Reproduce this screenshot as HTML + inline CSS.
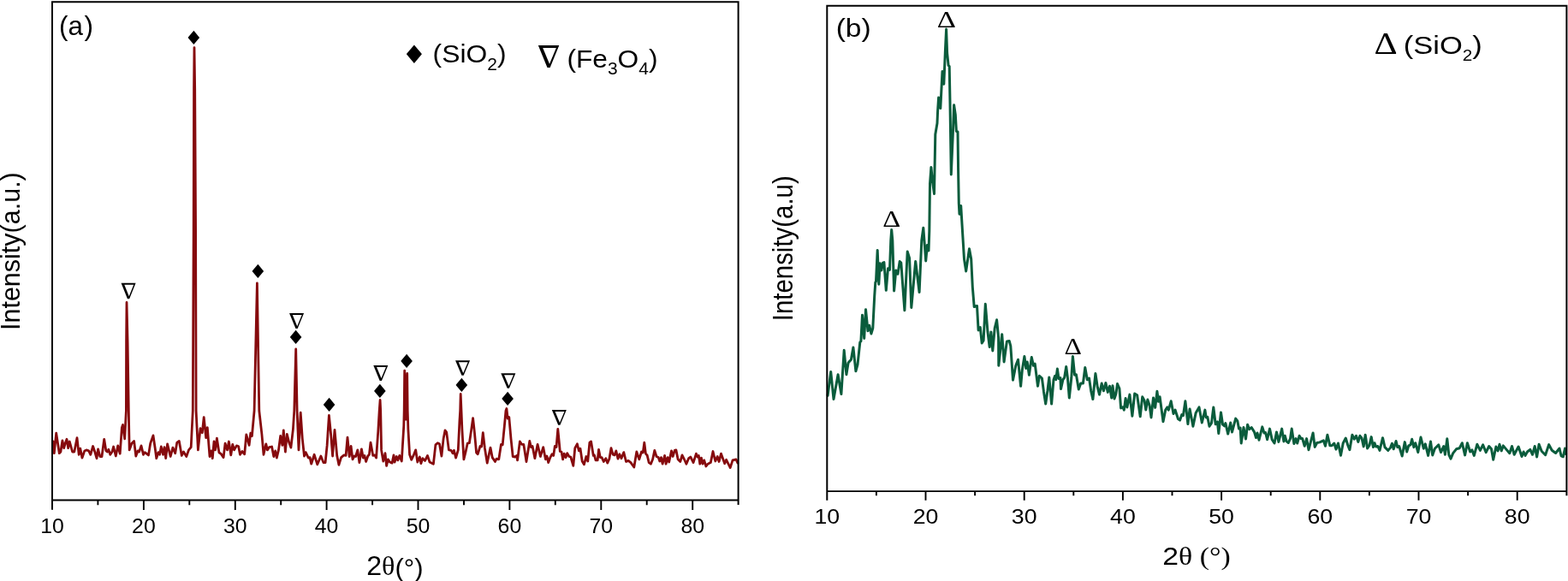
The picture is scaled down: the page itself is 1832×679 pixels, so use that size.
<!DOCTYPE html>
<html lang="en"><head><meta charset="utf-8"><title>XRD patterns</title>
<style>html,body{margin:0;padding:0;background:#fff}body{width:1832px;height:679px;overflow:hidden}svg{display:block}text{fill:#000}.ax{fill:none;stroke:#000;stroke-width:2;stroke-linecap:butt;stroke-linejoin:miter}.tk{stroke:#000;stroke-width:1.9;fill:none}.c1{fill:none;stroke:#860a0d;stroke-width:2.8;stroke-linejoin:round;stroke-linecap:round}.c2{fill:none;stroke:#0a5c3c;stroke-width:3;stroke-linejoin:round;stroke-linecap:round}</style></head><body>
<svg width="1832" height="679" viewBox="0 0 1832 679">
<rect x="0" y="0" width="1832" height="679" fill="#fff"/>
<g id="plot-a">
<polyline class="c1" points="62.0,516.0 63.3,529.7 65.7,506.2 69.3,529.7 70.9,528.0 72.9,514.9 74.7,523.7 76.4,517.7 78.0,513.3 79.7,523.7 81.3,516.0 84.6,528.0 86.8,528.0 90.0,511.7 92.2,531.3 93.8,524.2 96.0,535.1 98.8,526.9 100.9,525.9 103.7,526.9 105.8,531.3 108.6,521.5 110.8,528.0 113.0,535.7 114.6,524.8 116.8,533.5 119.0,533.5 121.7,513.3 123.9,526.9 125.5,528.0 126.8,525.3 128.8,531.3 131.0,528.0 132.6,522.0 135.3,533.0 137.7,520.9 140.2,530.2 142.4,499.6 143.5,496.4 145.7,512.8 147.4,480.0 147.6,400.0 148.0,353.5 149.1,400.0 150.3,480.0 151.2,525.9 153.9,518.2 156.6,515.5 158.8,533.0 161.0,526.9 162.6,528.0 165.0,520.9 167.5,531.3 169.2,528.6 173.5,531.9 175.7,518.2 179.0,508.9 181.2,523.7 182.8,535.7 185.0,528.6 186.6,531.3 188.3,522.0 190.5,531.3 192.1,522.6 193.7,535.7 195.6,518.8 199.2,533.5 201.9,523.1 204.7,529.7 206.8,517.1 209.3,515.5 212.3,532.4 214.5,528.0 217.8,533.5 220.5,525.9 223.2,522.6 225.3,480.0 226.2,270.0 226.6,104.0 227.0,55.6 227.7,104.0 228.6,270.0 229.1,480.0 231.4,525.9 234.1,500.7 236.3,505.7 238.2,487.6 240.7,511.7 242.3,499.6 245.0,533.5 246.9,526.9 248.3,535.7 250.0,516.0 251.6,525.9 253.4,512.2 256.0,529.1 258.1,530.2 261.1,534.6 263.1,518.2 265.5,525.9 267.4,516.0 269.8,531.9 271.8,519.3 273.6,525.9 276.4,520.9 278.6,521.5 280.5,531.3 282.9,527.5 285.7,530.8 287.8,507.8 291.1,520.4 292.8,506.2 294.4,509.5 297.1,480.0 300.4,331.0 302.8,480.0 305.9,507.3 308.0,531.3 310.8,518.8 312.4,525.9 314.6,522.6 317.6,522.0 319.8,533.5 321.7,526.9 323.3,535.1 325.5,525.9 327.7,509.5 329.9,520.4 331.3,502.9 333.4,528.0 335.3,507.3 337.7,517.1 339.9,523.1 342.4,501.8 343.8,480.0 345.7,408.0 347.1,480.0 349.0,525.9 351.2,482.2 353.3,512.8 355.5,533.0 357.2,528.6 360.4,535.1 362.1,534.6 363.7,542.2 367.2,531.3 370.8,542.8 374.9,533.0 377.9,540.6 380.1,540.6 382.1,520.9 384.4,485.5 386.6,507.3 388.6,533.0 391.0,502.4 393.7,532.4 395.9,543.3 398.6,534.6 401.9,531.9 404.1,532.4 406.0,511.1 408.2,533.5 410.1,521.5 412.0,536.8 413.9,533.0 415.6,533.5 417.8,525.9 419.9,540.6 422.4,524.8 424.3,535.1 425.9,532.4 427.6,539.5 429.8,533.0 431.4,531.3 433.0,517.1 435.8,532.4 437.9,531.9 439.6,535.1 441.8,504.0 443.2,480.0 444.1,467.5 444.7,480.0 445.6,525.9 447.8,539.0 450.0,529.7 451.6,544.4 453.4,536.8 455.4,540.0 458.1,541.1 460.0,531.9 461.1,540.0 463.3,533.5 464.9,537.9 466.8,532.4 469.3,539.0 471.8,497.5 472.2,480.0 472.7,433.2 474.3,490.0 475.7,436.5 476.2,480.0 476.9,501.8 478.6,531.3 480.7,537.3 483.5,531.3 485.7,525.9 487.8,540.0 490.4,534.0 491.9,541.7 493.8,535.7 496.6,538.4 499.5,532.4 502.0,540.0 506.4,542.2 508.9,519.9 511.3,517.7 513.5,518.8 515.9,533.0 518.1,512.8 520.0,502.9 521.7,505.1 524.4,525.9 527.1,526.4 529.0,529.7 530.4,526.4 532.6,535.1 535.3,525.9 537.0,490.9 537.7,480.0 538.2,460.5 539.0,480.0 539.9,501.8 541.9,536.8 544.1,528.0 546.2,518.2 548.4,517.7 550.6,502.9 552.6,488.7 554.4,505.1 556.6,529.1 558.2,530.8 561.0,521.5 562.6,522.0 564.3,505.7 566.4,523.7 569.2,541.1 573.0,523.1 575.2,534.6 578.5,539.5 580.1,536.2 582.8,536.8 585.5,519.3 587.2,519.9 589.4,497.5 591.0,480.0 591.9,477.5 593.2,489.0 594.8,487.6 597.0,512.8 599.2,533.5 601.9,534.0 603.6,532.4 604.6,537.9 607.4,516.0 609.6,519.3 611.8,519.3 615.0,539.5 618.8,515.5 620.5,522.6 622.1,521.5 624.9,535.7 628.1,519.3 631.4,533.5 634.7,522.6 637.4,536.8 639.0,533.0 640.7,540.6 642.9,534.6 645.0,530.8 646.7,532.4 648.3,521.5 650.0,522.6 651.8,501.3 654.3,527.5 656.0,528.0 657.6,536.8 659.2,530.2 661.1,534.6 662.7,529.7 664.9,533.5 666.8,534.0 669.8,544.4 671.8,523.7 674.4,518.8 676.4,526.9 678.0,524.2 680.2,539.0 682.4,542.8 684.9,533.5 686.8,539.0 688.9,517.1 690.6,516.0 693.3,532.4 694.4,531.9 696.0,537.9 698.2,537.9 699.5,525.3 701.3,534.6 703.1,534.6 705.3,539.5 707.8,535.7 709.7,541.1 711.9,536.2 714.0,523.7 716.2,531.3 717.9,531.9 719.8,526.9 722.0,536.2 723.9,530.8 726.0,535.7 728.8,528.6 731.5,539.5 734.2,538.4 737.0,540.6 740.8,546.0 743.8,528.0 746.8,536.8 749.5,528.0 751.2,529.1 752.8,517.1 754.4,530.2 756.1,531.9 758.2,540.6 760.4,542.2 762.6,536.8 764.8,526.4 767.0,533.5 769.2,534.6 770.8,539.0 772.5,534.6 774.1,542.2 776.6,532.4 778.1,542.2 780.1,534.6 781.7,540.0 784.5,526.9 786.1,533.5 788.3,526.4 789.9,525.9 792.1,536.8 794.8,539.5 797.0,531.9 799.7,537.3 801.9,542.2 804.6,535.7 806.8,534.0 810.1,540.6 813.4,530.2 815.0,534.0 816.3,532.4 817.8,542.2 819.4,535.1 821.0,542.2 822.7,537.9 824.9,545.0 827.0,542.2 830.3,540.6 833.0,527.5 835.8,539.0 838.2,533.5 840.1,539.5 842.5,530.2 846.7,541.7 848.6,537.3 853.2,546.6 856.0,537.9 858.1,537.3 860.0,536.8 861.8,541.0"/>
<path class="ax" d="M61.0 595.6999999999999V2.2H862.6V590.0M61.0 584.4H862.6"/>
<path class="tk" d="M167.9 584.4v11.5M274.8 584.4v11.5M381.6 584.4v11.5M488.5 584.4v11.5M595.4 584.4v11.5M702.3 584.4v11.5M809.2 584.4v11.5M114.4 584.4v5.8M221.3 584.4v5.8M328.2 584.4v5.8M435.1 584.4v5.8M542.0 584.4v5.8M648.8 584.4v5.8M755.7 584.4v5.8"/>
<g font-family="'Liberation Sans', sans-serif" font-size="24.8" text-anchor="middle">
<text x="61.0" y="622.8">10</text>
<text x="167.9" y="622.8">20</text>
<text x="274.8" y="622.8">30</text>
<text x="381.6" y="622.8">40</text>
<text x="488.5" y="622.8">50</text>
<text x="595.4" y="622.8">60</text>
<text x="702.3" y="622.8">70</text>
<text x="809.2" y="622.8">80</text>
</g>
<text transform="matrix(1.0350 0 0 1 428.20 672.40)" font-family="'Liberation Sans', sans-serif" font-size="31">2<tspan font-family="'Liberation Serif', serif">θ</tspan><tspan font-size="30" dy="1.8">(°)</tspan></text>
<text transform="matrix(0 -1.0000 1 0 22.80 386.00)" font-family="'Liberation Sans', sans-serif" font-size="30.5">Intensity(a.u.)</text>
<text transform="matrix(1.0300 0 0 1 69.00 40.90)" font-family="'Liberation Sans', sans-serif" font-size="30.5">(a<tspan dx="1.6">)</tspan></text>
<text transform="matrix(0.3214 0 0 0.2969 469.42 73.90)" font-family="'DejaVu Sans', sans-serif" font-size="100">♦</text>
<text transform="matrix(1.0500 0 0 1 505.60 73.10)" font-family="'Liberation Sans', sans-serif" font-size="30.3">(SiO<tspan font-size="20" dy="8.8">2</tspan><tspan dy="-8.8">)</tspan></text>
<text transform="matrix(-0.3812 0 0 0.3562 654.35 79.10)" font-family="'DejaVu Serif', serif" font-size="100">∇</text>
<text transform="matrix(1.0460 0 0 1 662.40 78.60)" font-family="'Liberation Sans', sans-serif" font-size="30.3">(Fe<tspan font-size="20" dy="8.7">3</tspan><tspan dy="-8.7">O</tspan><tspan font-size="20" dy="8.7">4</tspan><tspan dy="-8.7">)</tspan></text>
<text transform="matrix(-0.2656 0 0 0.2521 159.16 349.40)" font-family="'DejaVu Serif', serif" font-size="100">∇</text>
<text transform="matrix(-0.2656 0 0 0.2493 355.66 383.70)" font-family="'DejaVu Serif', serif" font-size="100">∇</text>
<text transform="matrix(-0.2656 0 0 0.2479 453.96 444.60)" font-family="'DejaVu Serif', serif" font-size="100">∇</text>
<text transform="matrix(-0.2656 0 0 0.2411 549.66 438.70)" font-family="'DejaVu Serif', serif" font-size="100">∇</text>
<text transform="matrix(-0.2656 0 0 0.2397 602.96 454.40)" font-family="'DejaVu Serif', serif" font-size="100">∇</text>
<text transform="matrix(-0.2656 0 0 0.2438 662.56 497.00)" font-family="'DejaVu Serif', serif" font-size="100">∇</text>
<text transform="matrix(0.2429 0 0 0.2227 215.53 52.00)" font-family="'DejaVu Sans', sans-serif" font-size="100">♦</text>
<text transform="matrix(0.2429 0 0 0.2227 290.43 325.00)" font-family="'DejaVu Sans', sans-serif" font-size="100">♦</text>
<text transform="matrix(0.2429 0 0 0.2227 334.83 401.70)" font-family="'DejaVu Sans', sans-serif" font-size="100">♦</text>
<text transform="matrix(0.2429 0 0 0.2227 373.73 480.80)" font-family="'DejaVu Sans', sans-serif" font-size="100">♦</text>
<text transform="matrix(0.2429 0 0 0.2227 433.03 464.80)" font-family="'DejaVu Sans', sans-serif" font-size="100">♦</text>
<text transform="matrix(0.2429 0 0 0.2227 464.33 429.90)" font-family="'DejaVu Sans', sans-serif" font-size="100">♦</text>
<text transform="matrix(0.2429 0 0 0.2227 528.43 457.70)" font-family="'DejaVu Sans', sans-serif" font-size="100">♦</text>
<text transform="matrix(0.2429 0 0 0.2227 582.23 474.30)" font-family="'DejaVu Sans', sans-serif" font-size="100">♦</text>
</g>
<g id="plot-b">
<polyline class="c2" points="967.1,462.2 970.7,434.4 974.0,466.6 979.1,437.7 982.9,460.6 986.2,409.3 988.9,437.7 991.1,424.0 994.4,420.2 996.9,406.0 999.9,433.8 1002.0,426.2 1004.8,400.0 1005.9,398.8 1007.5,368.2 1009.7,395.5 1011.5,361.7 1014.0,386.8 1015.7,380.2 1017.9,390.0 1019.8,383.5 1021.7,346.4 1022.8,330.0 1023.5,328.9 1025.2,292.4 1026.8,332.2 1028.2,307.7 1029.9,315.9 1031.5,307.1 1032.9,306.6 1035.3,339.3 1037.5,313.7 1039.5,315.3 1040.8,280.9 1041.7,268.4 1042.8,280.9 1044.6,339.9 1046.8,315.9 1049.0,320.2 1051.2,305.5 1052.8,307.1 1056.9,362.8 1060.2,294.0 1062.6,301.7 1064.8,359.5 1069.7,305.5 1074.1,341.5 1076.8,280.9 1078.8,266.2 1079.9,280.9 1081.7,304.9 1083.4,286.4 1085.0,292.9 1085.8,270.0 1086.5,215.0 1087.9,195.5 1089.5,212.0 1091.5,226.5 1092.8,157.0 1095.0,144.0 1095.6,130.0 1096.6,114.0 1098.8,126.6 1101.0,83.5 1102.8,98.2 1104.3,62.0 1105.6,34.0 1106.6,62.0 1108.1,76.4 1109.2,77.5 1110.0,120.0 1111.3,204.0 1113.6,150.0 1114.6,122.8 1116.3,134.0 1117.4,153.5 1119.0,154.0 1119.6,200.0 1120.3,238.0 1121.0,250.2 1122.7,240.4 1124.0,262.0 1126.5,302.8 1128.7,316.9 1132.5,290.7 1134.7,302.8 1136.3,335.5 1138.2,358.6 1141.5,357.5 1143.1,385.9 1145.3,382.6 1147.2,401.1 1149.1,397.9 1151.3,355.3 1154.0,388.0 1156.2,405.5 1157.9,388.0 1159.8,409.9 1162.2,383.7 1164.6,373.8 1166.6,394.6 1166.8,427.3 1170.7,390.7 1173.1,422.9 1176.4,398.9 1179.2,398.4 1180.8,404.4 1183.5,444.2 1186.8,427.3 1189.5,420.2 1192.6,451.3 1194.4,431.7 1196.9,416.4 1198.8,430.6 1200.2,422.9 1202.4,438.2 1205.3,417.5 1207.5,427.3 1209.2,425.1 1212.5,451.3 1214.4,439.3 1217.4,442.0 1219.5,457.9 1221.7,472.1 1223.9,456.8 1225.8,440.9 1228.6,472.1 1231.0,443.7 1232.6,439.3 1233.7,443.7 1235.4,431.1 1237.0,442.6 1238.9,441.5 1239.5,454.6 1241.9,443.7 1243.6,441.5 1245.7,428.4 1247.4,441.5 1249.3,465.0 1251.8,441.5 1253.4,416.4 1255.6,438.2 1257.4,437.7 1260.3,455.1 1262.7,448.0 1265.4,448.0 1267.8,429.5 1270.3,443.7 1272.5,442.0 1274.7,456.8 1276.9,466.6 1279.9,436.6 1282.3,452.4 1284.5,461.1 1287.2,448.0 1289.4,456.8 1291.9,447.5 1294.3,458.4 1296.5,451.3 1298.7,465.0 1300.0,450.7 1302.0,466.0 1303.8,460.6 1305.5,448.6 1307.9,454.0 1309.6,476.9 1311.8,475.9 1313.3,479.1 1315.1,465.5 1316.9,475.9 1319.9,461.1 1322.9,486.2 1325.7,460.0 1328.6,461.7 1332.2,486.8 1334.7,463.8 1337.1,468.2 1338.8,479.1 1340.9,467.1 1343.1,473.7 1345.0,487.9 1347.5,464.9 1349.7,476.4 1351.9,457.3 1353.5,469.3 1355.1,463.8 1359.0,492.8 1361.7,479.1 1363.9,475.9 1365.3,479.1 1368.2,468.8 1371.0,483.5 1373.1,479.1 1376.4,489.5 1378.6,491.1 1380.8,484.6 1382.4,485.7 1384.9,468.8 1387.9,495.5 1390.1,478.0 1393.9,498.2 1397.2,482.4 1401.0,475.9 1404.3,493.9 1407.9,479.1 1409.2,487.9 1410.8,487.3 1413.0,498.2 1415.5,494.4 1417.8,476.0 1420.2,495.7 1422.4,492.9 1423.8,506.6 1426.5,482.0 1428.6,496.2 1430.6,497.8 1431.9,494.6 1434.7,507.1 1437.7,494.0 1439.5,504.9 1443.7,489.1 1445.8,491.8 1447.5,501.1 1449.1,500.0 1450.2,518.0 1453.0,499.5 1455.5,513.1 1457.6,496.2 1459.8,501.7 1462.2,499.5 1465.5,504.9 1467.5,511.5 1469.0,506.0 1471.0,514.2 1474.8,498.9 1477.0,506.0 1478.6,505.5 1480.6,513.7 1483.5,501.1 1486.2,513.7 1489.0,518.0 1491.5,504.9 1493.9,516.4 1497.7,501.1 1499.9,515.9 1501.3,509.3 1503.2,515.9 1505.3,517.5 1507.5,512.6 1509.2,501.1 1511.9,518.6 1514.1,512.6 1515.7,518.0 1518.1,509.3 1520.1,512.6 1521.7,512.6 1524.2,521.3 1526.6,512.6 1529.0,525.7 1531.5,515.9 1534.1,506.0 1536.2,522.4 1538.7,517.5 1541.9,516.9 1546.3,514.8 1548.5,521.3 1550.9,508.2 1553.9,520.8 1556.1,520.8 1558.8,518.0 1561.0,525.1 1563.5,518.0 1566.5,532.2 1569.2,518.0 1572.3,512.0 1574.7,520.2 1576.9,525.7 1579.9,508.2 1582.3,513.1 1584.5,509.3 1586.9,516.4 1588.9,509.3 1591.0,512.0 1593.2,521.9 1595.2,508.2 1597.6,524.0 1600.0,520.4 1602.2,510.6 1604.4,522.6 1606.0,517.7 1607.6,522.0 1609.8,521.5 1612.0,526.4 1615.5,511.7 1618.0,522.6 1621.8,526.4 1624.6,523.1 1626.4,518.2 1628.2,524.8 1631.1,515.5 1632.8,522.6 1634.7,521.5 1638.2,533.0 1641.3,516.6 1643.7,528.0 1645.8,520.9 1648.0,519.9 1649.7,513.3 1651.9,522.6 1653.7,517.7 1656.8,528.6 1660.0,511.1 1663.3,524.2 1665.3,518.8 1668.6,532.4 1671.5,516.0 1673.7,531.9 1676.4,524.2 1680.8,519.9 1683.5,528.6 1686.8,521.5 1688.4,531.3 1690.8,512.8 1692.8,531.3 1695.0,536.2 1697.7,529.7 1701.5,524.8 1705.3,523.7 1708.3,517.7 1711.6,531.9 1714.4,517.7 1717.7,528.0 1719.9,525.9 1722.3,532.4 1725.8,519.3 1729.4,526.4 1732.6,519.9 1736.2,528.6 1739.7,521.5 1742.5,524.8 1744.7,537.3 1747.9,522.0 1750.1,526.9 1752.0,519.3 1754.2,526.9 1756.3,520.9 1760.5,525.9 1763.8,529.7 1766.5,521.5 1769.2,531.3 1774.1,522.0 1778.0,533.5 1780.1,528.0 1782.1,532.4 1784.5,528.0 1787.8,525.3 1790.5,531.3 1793.2,521.5 1795.6,534.0 1798.1,519.3 1801.2,527.3 1805.6,531.7 1809.7,519.6 1813.2,526.2 1817.6,529.5 1822.0,524.0 1824.1,532.8 1826.3,533.8 1828.5,524.0 1829.6,530.6"/>
<path class="ax" d="M966.3 584.7V6.7H1830.4V579.3"/><path class="ax" style="stroke-width:1.7" d="M966.3 574.1H1830.4"/>
<path class="tk" d="M1081.5 574.0v10.7M1196.7 574.0v10.7M1311.9 574.0v10.7M1427.1 574.0v10.7M1542.3 574.0v10.7M1657.5 574.0v10.7M1772.7 574.0v10.7M1023.9 574.0v5.3M1139.1 574.0v5.3M1254.3 574.0v5.3M1369.5 574.0v5.3M1484.7 574.0v5.3M1599.9 574.0v5.3M1715.1 574.0v5.3"/>
<g font-family="'Liberation Sans', sans-serif" font-size="24.5" text-anchor="middle">
<text transform="matrix(1.09 0 0 1 966.3 611.7)">10</text>
<text transform="matrix(1.09 0 0 1 1081.5 611.7)">20</text>
<text transform="matrix(1.09 0 0 1 1196.7 611.7)">30</text>
<text transform="matrix(1.09 0 0 1 1311.9 611.7)">40</text>
<text transform="matrix(1.09 0 0 1 1427.1 611.7)">50</text>
<text transform="matrix(1.09 0 0 1 1542.3 611.7)">60</text>
<text transform="matrix(1.09 0 0 1 1657.5 611.7)">70</text>
<text transform="matrix(1.09 0 0 1 1772.7 611.7)">80</text>
</g>
<text transform="matrix(1.1250 0 0 1 1358.30 659.90)" font-family="'Liberation Sans', sans-serif" font-size="30">2<tspan font-family="'Liberation Serif', serif">θ (°)</tspan></text>
<text transform="matrix(0 -0.8650 1 0 925.60 375.20)" font-family="'Liberation Sans', sans-serif" font-size="34">Intensity(a.u)</text>
<text transform="matrix(1.1570 0 0 1 976.70 43.10)" font-family="'Liberation Sans', sans-serif" font-size="29">(b)</text>
<text transform="matrix(0.4229 0 0 0.3621 1605.61 63.20)" font-family="'Liberation Serif', serif" font-size="100">Δ</text>
<text transform="matrix(1.1500 0 0 1 1639.80 63.10)" font-family="'Liberation Sans', sans-serif" font-size="30">(SiO<tspan font-size="18" dy="7.7">2</tspan><tspan dy="-7.7">)</tspan></text>
<text transform="matrix(0.3260 0 0 0.2758 1031.13 265.40)" font-family="'Liberation Serif', serif" font-size="100">Δ</text>
<text transform="matrix(0.3454 0 0 0.2788 1094.80 32.30)" font-family="'Liberation Serif', serif" font-size="100">Δ</text>
<text transform="matrix(0.3172 0 0 0.2773 1243.51 413.70)" font-family="'Liberation Serif', serif" font-size="100">Δ</text>
</g>
</svg></body></html>
